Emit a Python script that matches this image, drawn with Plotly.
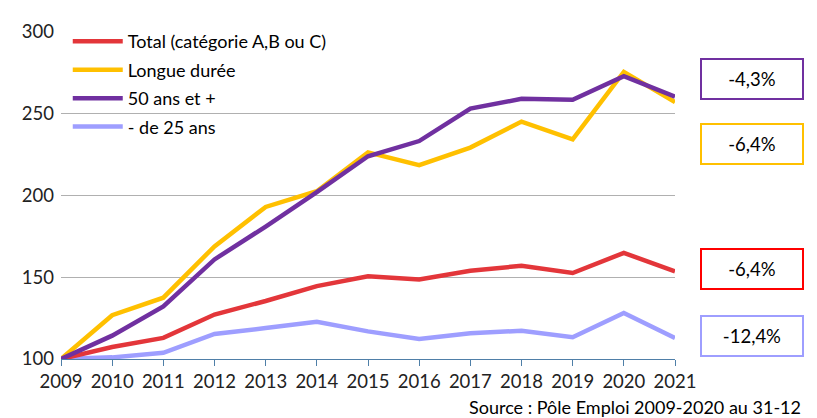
import plotly.graph_objects as go

years = list(range(2009, 2022))
total = [100, 107.3, 112.9, 127.2, 135.5, 144.6, 150.6, 148.6, 154.0, 157.0, 152.6, 164.9, 153.6]
longue = [100, 126.8, 137.5, 168.9, 193.0, 202.6, 226.4, 218.5, 229.3, 245.2, 234.3, 275.6, 257.1]
plus50 = [100, 114.3, 132.1, 160.9, 181.0, 202.0, 224.0, 233.3, 253.2, 259.1, 258.5, 273.0, 260.5]
moins25 = [100, 101.0, 103.8, 115.3, 118.9, 122.8, 116.9, 112.3, 115.7, 117.3, 113.3, 128.2, 112.9]

names = ["Total (catégorie A,B ou C)", "Longue durée", "50 ans et +", "- de 25 ans"]
series = [total, longue, plus50, moins25]
colors = ["#E3363A", "#FFC000", "#7030A0", "#9E9EFF"]
box_colors = ["#FF0000", "#FFC000", "#7030A0", "#9E9EFF"]
labels = ["-6,4%", "-6,4%", "-4,3%", "-12,4%"]
label_y = [154.8, 231.5, 271.4, 114.3]  # box centre positions (data units)

font = "Lato, 'Open Sans', sans-serif"
fig = go.Figure()
# draw order: blue, red, yellow, purple on top
order = [3, 0, 1, 2]
for i in order:
    fig.add_trace(go.Scatter(x=years, y=series[i], name=names[i], mode="lines",
                             line=dict(color=colors[i], width=4.5),
                             legendrank=i + 1, legendgroup="g%d" % i))

for lab, yv, c in zip(labels, label_y, box_colors):
    fig.add_annotation(x=1.041, xref="paper", xanchor="left", y=yv, yref="y", yanchor="middle",
                       text=lab, showarrow=False, font=dict(family=font, size=18.5, color="#000"),
                       bordercolor=c, borderwidth=2, width=98, height=36, bgcolor="white",
                       align="center")

fig.add_annotation(x=1.2085, xref="paper", xanchor="right", y=-0.146, yref="paper", yanchor="middle",
                   text="Source : Pôle Emploi 2009-2020 au 31-12", showarrow=False,
                   font=dict(family=font, size=18, color="#000"))

fig.update_layout(
    width=809, height=410,
    margin=dict(l=53, r=142, t=15, b=59),
    plot_bgcolor="white", paper_bgcolor="white",
    font=dict(family=font, size=18, color="#222"),
    legend=dict(x=0.011, y=1.027, xanchor="left", yanchor="top", bgcolor="rgba(0,0,0,0)",
                font=dict(family=font, size=18, color="#000"), itemwidth=50,
                traceorder="grouped", tracegroupgap=2),
    showlegend=True,
)
fig.update_xaxes(range=[2009, 2021], tickvals=years, showgrid=False,
                 showline=True, linecolor="#4F7FA8", linewidth=1.2,
                 ticks="outside", ticklen=6, tickcolor="#4F7FA8",
                 tickfont=dict(family=font, size=18.5, color="#222"), zeroline=False)
fig.update_yaxes(range=[100, 300], tickvals=[100, 150, 200, 250, 300], showgrid=True,
                 gridcolor="#B0B0B0", gridwidth=1, zeroline=False, showline=False,
                 ticks="", tickfont=dict(family=font, size=18.5, color="#222"), ticklabelstandoff=6)

fig.write_html("out.html")
